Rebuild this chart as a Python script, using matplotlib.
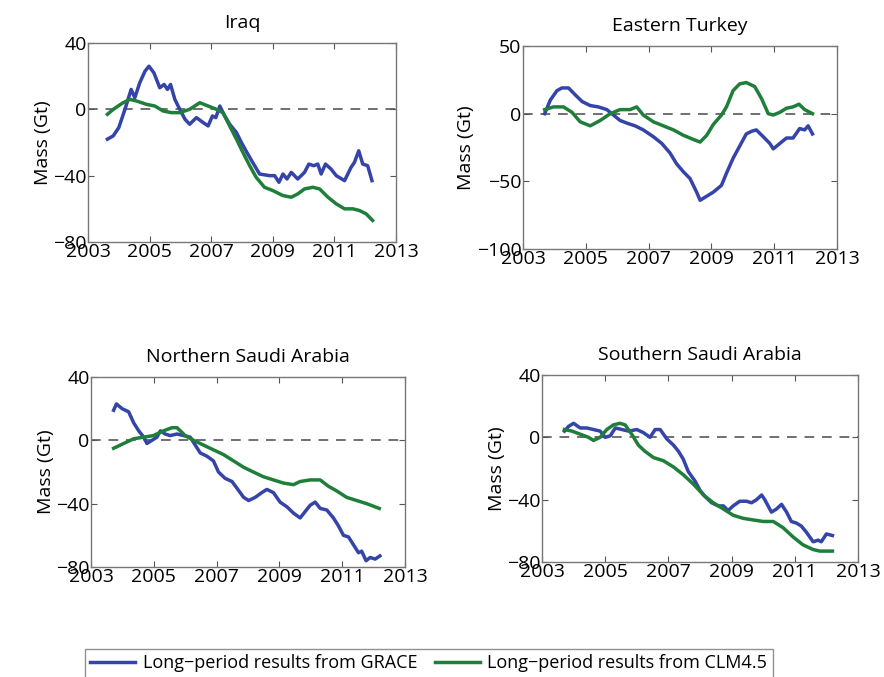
import matplotlib
matplotlib.use("Agg")
import matplotlib.pyplot as plt

plt.rcParams["font.family"] = ["Open Sans", "DejaVu Sans"]
plt.rcParams["axes.unicode_minus"] = True

BLUE = "#3444a8"
GREEN = "#1f7f3a"

# --- Iraq ---
iraq_grace_t = [2003.63, 2003.82, 2004.0, 2004.2, 2004.4, 2004.52, 2004.68, 2004.85, 2004.98, 2005.14,
                2005.33, 2005.47, 2005.58, 2005.68, 2005.82, 2005.98, 2006.15, 2006.3, 2006.52, 2006.74,
                2006.9, 2007.04, 2007.15, 2007.28, 2007.41, 2007.6, 2007.82, 2007.98, 2008.19, 2008.41,
                2008.57, 2008.9, 2009.06, 2009.2, 2009.33, 2009.46, 2009.6, 2009.81, 2010.03, 2010.17,
                2010.33, 2010.46, 2010.57, 2010.71, 2010.89, 2011.06, 2011.33, 2011.54, 2011.65, 2011.79,
                2011.92, 2012.08, 2012.22]
iraq_grace_v = [-18, -16, -11, 0, 12, 7, 16, 23, 26, 22,
                13, 15, 12, 15, 6, 0, -6, -9, -5, -8,
                -10, -4, -5, 2, -3, -9, -14, -20, -27, -34,
                -39, -40, -40, -44, -39, -42, -38, -42, -38, -33,
                -34, -33, -39, -33, -36, -40, -43, -35, -32, -25,
                -33, -34, -43]
iraq_clm_t = [2003.63, 2003.82, 2004.14, 2004.36, 2004.58, 2004.9, 2005.17, 2005.44, 2005.71, 2005.98,
              2006.3, 2006.63, 2006.9, 2007.17, 2007.38, 2007.6, 2007.82, 2008.03, 2008.25, 2008.46,
              2008.73, 2009.0, 2009.33, 2009.6, 2009.81, 2010.03, 2010.3, 2010.52, 2010.79, 2011.06,
              2011.33, 2011.6, 2011.81, 2012.03, 2012.24]
iraq_clm_v = [-3, 0, 4, 6, 5, 3, 2, -1, -2, -2,
              0, 4, 2, 0, -2, -10, -18, -26, -34, -41,
              -47, -49, -52, -53, -51, -48, -47, -48, -53, -57,
              -60, -60, -61, -63, -67]

# --- Eastern Turkey ---
turkey_grace_t = [2003.69, 2003.87, 2004.08, 2004.24, 2004.45, 2004.66, 2004.88, 2005.14, 2005.4, 2005.67,
                  2005.88, 2006.09, 2006.31, 2006.57, 2006.83, 2007.15, 2007.42, 2007.68, 2007.89, 2008.11,
                  2008.32, 2008.53, 2008.64, 2008.85, 2009.06, 2009.32, 2009.48, 2009.69, 2009.9, 2010.11,
                  2010.28, 2010.43, 2010.65, 2010.86, 2010.97, 2011.18, 2011.39, 2011.6, 2011.81, 2011.97,
                  2012.08, 2012.22]
turkey_grace_v = [0, 10, 17, 19, 19, 14, 9, 6, 5, 3,
                  -1, -5, -7, -9, -12, -17, -22, -29, -37, -43,
                  -48, -58, -64, -61, -58, -53, -44, -33, -24, -15,
                  -13, -12, -17, -22, -26, -22, -18, -18, -11, -12,
                  -9, -15]
turkey_clm_t = [2003.69, 2003.97, 2004.29, 2004.56, 2004.82, 2005.14, 2005.46, 2005.78, 2006.09, 2006.41,
                2006.62, 2006.83, 2007.15, 2007.47, 2007.79, 2008.11, 2008.42, 2008.64, 2008.85, 2009.06,
                2009.32, 2009.48, 2009.69, 2009.9, 2010.11, 2010.38, 2010.6, 2010.81, 2010.97, 2011.18,
                2011.39, 2011.6, 2011.79, 2011.97, 2012.22]
turkey_clm_v = [3, 5, 5, 1, -6, -9, -5, 0, 3, 3,
                5, -1, -6, -9, -12, -16, -19, -21, -16, -8,
                -1, 5, 17, 22, 23, 20, 11, 0, -1, 1,
                4, 5, 7, 3, 0]

# --- Northern Saudi Arabia ---
nsaudi_grace_t = [2003.72, 2003.81, 2003.99, 2004.2, 2004.36, 2004.52, 2004.68, 2004.78, 2004.94, 2005.1,
                  2005.21, 2005.36, 2005.52, 2005.74, 2005.95, 2006.16, 2006.32, 2006.48, 2006.69, 2006.9,
                  2007.06, 2007.27, 2007.49, 2007.64, 2007.86, 2008.02, 2008.23, 2008.44, 2008.6, 2008.81,
                  2009.02, 2009.24, 2009.45, 2009.66, 2009.82, 2009.98, 2010.14, 2010.3, 2010.51, 2010.72,
                  2010.88, 2011.04, 2011.2, 2011.36, 2011.52, 2011.62, 2011.76, 2011.89, 2012.05, 2012.2]
nsaudi_grace_v = [19, 23, 20, 18, 11, 6, 2, -2, 0, 2,
                  6, 4, 3, 4, 3, 2, -3, -8, -10, -13,
                  -20, -24, -26, -30, -36, -38, -36, -33, -31, -33,
                  -39, -42, -46, -49, -45, -41, -39, -43, -44, -49,
                  -54, -60, -61, -66, -71, -70, -76, -74, -75, -73]
nsaudi_clm_t = [2003.72, 2004.04, 2004.36, 2004.68, 2004.99, 2005.31, 2005.58, 2005.74, 2006.0, 2006.27,
                2006.58, 2006.9, 2007.22, 2007.54, 2007.86, 2008.17, 2008.49, 2008.81, 2009.13, 2009.45,
                2009.66, 2009.98, 2010.3, 2010.56, 2010.83, 2011.14, 2011.46, 2011.78, 2012.18]
nsaudi_clm_v = [-5, -2, 1, 2, 3, 6, 8, 8, 3, 0,
                -3, -6, -9, -13, -17, -20, -23, -25, -27, -28,
                -26, -25, -25, -29, -32, -36, -38, -40, -43]

# --- Southern Saudi Arabia ---
ssaudi_grace_t = [2003.71, 2003.84, 2004.0, 2004.21, 2004.42, 2004.63, 2004.84, 2005.0, 2005.16, 2005.32,
                  2005.53, 2005.74, 2006.0, 2006.21, 2006.42, 2006.58, 2006.74, 2006.95, 2007.16, 2007.32,
                  2007.47, 2007.63, 2007.84, 2008.0, 2008.16, 2008.37, 2008.58, 2008.74, 2008.89, 2009.05,
                  2009.26, 2009.47, 2009.63, 2009.79, 2009.95, 2010.05, 2010.26, 2010.42, 2010.58, 2010.74,
                  2010.89, 2011.05, 2011.21, 2011.37, 2011.58, 2011.74, 2011.84, 2012.0, 2012.19]
ssaudi_grace_v = [4, 7, 9, 6, 6, 5, 4, 0, 1, 6,
                  5, 4, 5, 3, 0, 5, 5, -1, -5, -9,
                  -14, -22, -28, -34, -38, -42, -44, -44, -47, -44,
                  -41, -41, -42, -40, -37, -40, -48, -46, -43, -48,
                  -54, -55, -57, -61, -67, -66, -67, -62, -63]
ssaudi_clm_t = [2003.71, 2003.95, 2004.21, 2004.47, 2004.63, 2004.84, 2005.05, 2005.26, 2005.47, 2005.63,
                2005.84, 2006.05, 2006.26, 2006.53, 2006.84, 2007.16, 2007.47, 2007.79, 2008.11, 2008.42,
                2008.74, 2009.05, 2009.37, 2009.68, 2010.0, 2010.32, 2010.63, 2010.95, 2011.26, 2011.58,
                2011.79, 2012.0, 2012.19]
ssaudi_clm_v = [5, 4, 2, 0, -2, 0, 5, 8, 9, 8,
                2, -5, -9, -13, -15, -19, -24, -30, -37, -42,
                -46, -50, -52, -53, -54, -54, -58, -64, -69, -72,
                -73, -73, -73]

titles = ["Iraq", "Eastern Turkey", "Northern Saudi Arabia", "Southern Saudi Arabia"]
year_ticks = [2003, 2005, 2007, 2009, 2011, 2013]
panels = [
    (iraq_grace_t, iraq_grace_v, iraq_clm_t, iraq_clm_v, (-80, 40), [-80, -40, 0, 40]),
    (turkey_grace_t, turkey_grace_v, turkey_clm_t, turkey_clm_v, (-100, 50), [-100, -50, 0, 50]),
    (nsaudi_grace_t, nsaudi_grace_v, nsaudi_clm_t, nsaudi_clm_v, (-80, 40), [-80, -40, 0, 40]),
    (ssaudi_grace_t, ssaudi_grace_v, ssaudi_clm_t, ssaudi_clm_v, (-80, 40), [-80, -40, 0, 40]),
]

# axes rectangles in pixels: left, right, top, bottom (figure is 884x677)
W, H = 884, 677
boxes = [(88, 396, 43, 242), (523, 837, 46, 249), (91, 405, 377, 567), (542, 858, 375, 562)]

fig = plt.figure(figsize=(W / 100, H / 100), dpi=100)
handles = None
for (l, r, t, b), title, (gt, gv, ct, cv, ylim, yticks) in zip(boxes, titles, panels):
    ax = fig.add_axes([l / W, 1 - b / H, (r - l) / W, (b - t) / H])
    ax.axhline(0, color="#707070", ls=(0, (5, 4)), lw=1.4, zorder=1)
    h1, = ax.plot(gt, gv, color=BLUE, lw=2.5, label="Long\u2212period results from GRACE")
    h2, = ax.plot(ct, cv, color=GREEN, lw=2.5, label="Long\u2212period results from CLM4.5")
    handles = [h1, h2]
    ax.set_xlim(2003, 2013)
    ax.set_ylim(*ylim)
    ax.set_xticks(year_ticks)
    ax.set_yticks(yticks)
    ax.tick_params(direction="in", top=True, right=True, labelsize=14, length=4,
                   color="#555555", pad=1)
    for s in ax.spines.values():
        s.set_color("#777777")
        s.set_linewidth(1.0)
    ax.set_title(title, fontsize=14, pad=11)
    ax.set_ylabel("Mass (Gt)", fontsize=14, labelpad=1)

leg = fig.legend(handles=handles, loc="upper center", bbox_to_anchor=(0.485, 1 - 640 / H),
                 ncol=2, fontsize=13, frameon=True, fancybox=False, handlelength=2.5,
                 handletextpad=0.4, columnspacing=1.0, borderpad=0.3)
leg.get_frame().set_edgecolor("#777777")
leg.get_frame().set_linewidth(1.0)

fig.savefig("out.png", dpi=100)
